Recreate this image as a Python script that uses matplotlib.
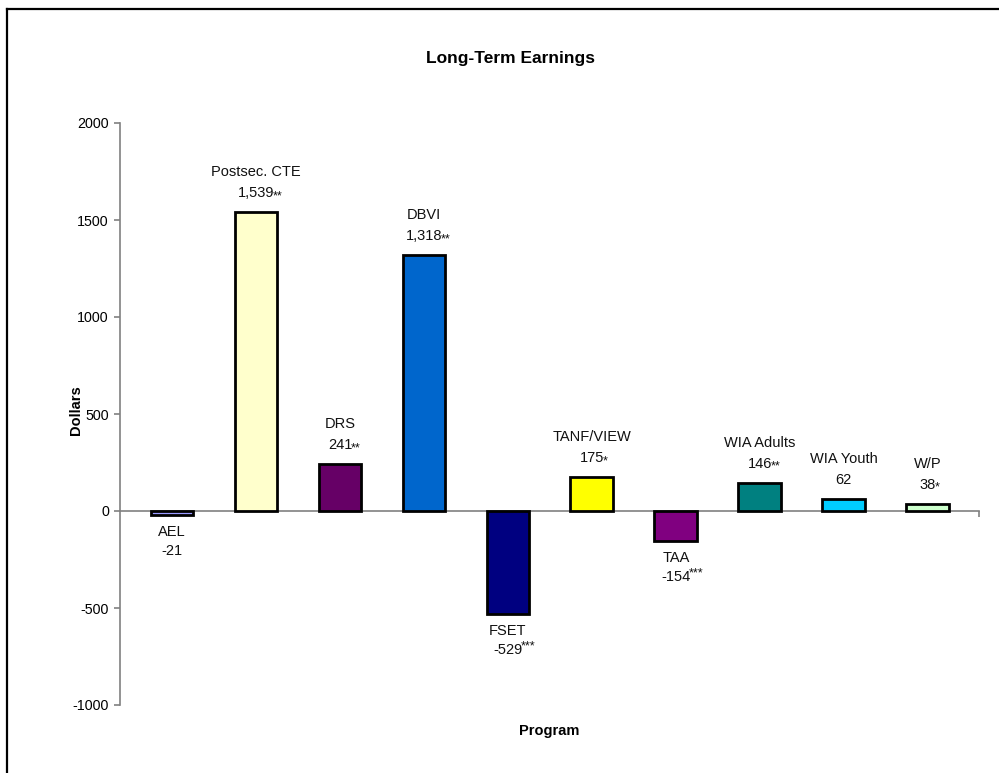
import matplotlib
matplotlib.use("Agg")
import matplotlib.pyplot as plt
from matplotlib.lines import Line2D

programs = ["AEL", "Postsec. CTE", "DRS", "DBVI", "FSET", "TANF/VIEW", "TAA",
            "WIA Adults", "WIA Youth", "W/P"]
earnings = [-21, 1539, 241, 1318, -529, 175, -154, 146, 62, 38]
stars = ["", "**", "**", "**", "***", "*", "***", "**", "", "*"]
colors = ["#9999FF", "#FFFFCC", "#660066", "#0066CC", "#000080", "#FFFF00",
          "#800080", "#008080", "#00CCFF", "#CCFFCC"]
yticks = [-1000, -500, 0, 500, 1000, 1500, 2000]

plt.rcParams['font.family'] = ['Liberation Sans', 'DejaVu Sans']

W, H = 999, 773
fig = plt.figure(figsize=(W / 100, H / 100), dpi=100)
ax = fig.add_axes([120 / W, (H - 705) / H, (979 - 120) / W, (705 - 123) / H])

x = list(range(len(programs)))
ax.bar(x, earnings, width=0.51, color=colors, edgecolor="black", linewidth=2.0, zorder=3)

ax.set_xlim(-0.62, len(programs) - 1 + 0.61)
ax.set_ylim(-1000, 2000)
ax.set_yticks(yticks)
ax.set_yticklabels([str(v) for v in yticks], fontsize=10.3)

for s in ["top", "right"]:
    ax.spines[s].set_visible(False)
ax.spines["left"].set_color("#808080")
ax.spines["left"].set_linewidth(1.2)
ax.spines["bottom"].set_position(("data", 0))
ax.spines["bottom"].set_color("#808080")
ax.spines["bottom"].set_linewidth(1.2)
ax.spines["bottom"].set_zorder(2)
ax.set_xticks([ax.get_xlim()[1]])
ax.set_xticklabels([""])
ax.tick_params(axis="both", direction="out", length=4, color="#808080", width=1.2)
ax.tick_params(axis="y", pad=4)

px = 72 / 100  # points per pixel
for xi, v, name, st in zip(x, earnings, programs, stars):
    if v >= 0:
        off_name, off_val = 40, 19
    else:
        off_name, off_val = -17, -36
    ax.annotate(name, (xi, v), xytext=(0, off_name * px), textcoords="offset points",
                ha="center", va="center", fontsize=10.5, color="#111111", zorder=5)
    t = ax.annotate(f"{v:,}", (xi, v), xytext=(0, off_val * px), textcoords="offset points",
                    ha="center", va="center", fontsize=10.5, color="#111111", zorder=5)
    if st:
        raise_px = 3 if st == "***" else -3
        ax.annotate(st, xy=(1, 0.5), xycoords=t, xytext=(-1.5 * px, raise_px * px),
                    textcoords="offset points", ha="left", va="center",
                    fontsize=9, color="#111111", zorder=5)

fig.text(76 / W, 1 - 410 / H, "Dollars", ha="center", va="center", rotation=90,
         fontsize=10.5, fontweight="bold")
fig.text(549.5 / W, 1 - 731 / H, "Program", ha="center", va="center",
         fontsize=10.5, fontweight="bold")
fig.text(511 / W, 1 - 58 / H, "Long-Term Earnings", ha="center", va="center",
         fontsize=12.5, fontweight="bold")

# outer frame (cropped at right and bottom)
fig.add_artist(Line2D([7 / W, 7 / W], [0, 1 - 9 / H], color="black", lw=1.6,
                      transform=fig.transFigure))
fig.add_artist(Line2D([7 / W, 1], [1 - 9 / H, 1 - 9 / H], color="black", lw=1.6,
                      transform=fig.transFigure))

fig.savefig("out.png", dpi=100)
